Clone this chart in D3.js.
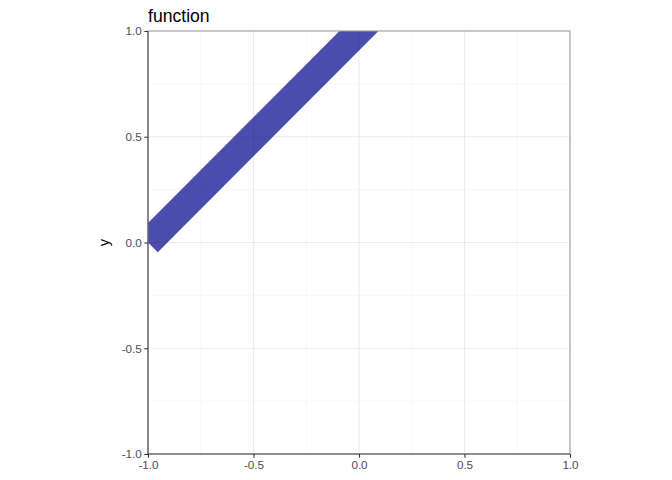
<!DOCTYPE html>
<html><head><meta charset="utf-8">
<script src="https://cdn.jsdelivr.net/npm/d3@7"></script>
<style>body{margin:0;background:#fff}svg{display:block}text{font-family:"Liberation Sans",Arial,Helvetica,sans-serif}</style>
</head><body>
<script>
const xValues = [-1, -0.5, 0, 0.5, 1];
const yValues = [0, 0.5, 1, 1.5, 2];
const xTicks = [-1, -0.5, 0, 0.5, 1];
const yTicks = [-1, -0.5, 0, 0.5, 1];
const minorTicks = [-0.75, -0.25, 0.25, 0.75];
const tickLabels = ["-1.0", "-0.5", "0.0", "0.5", "1.0"];

const W = 672, H = 480;
const L = 148, R = 570, T = 31, B = 454;
const svg = d3.select("body").append("svg").attr("width", W).attr("height", H);
const x = d3.scaleLinear().domain([-1, 1]).range([L, R]);
const y = d3.scaleLinear().domain([-1, 1]).range([B, T]);

// minor grid
svg.append("g").selectAll("line.vx").data(minorTicks).join("line")
  .attr("x1", d => x(d)).attr("x2", d => x(d)).attr("y1", T).attr("y2", B)
  .attr("stroke", "#f3f3f3").attr("stroke-width", 0.6);
svg.append("g").selectAll("line.hy").data(minorTicks).join("line")
  .attr("y1", d => y(d)).attr("y2", d => y(d)).attr("x1", L).attr("x2", R)
  .attr("stroke", "#f3f3f3").attr("stroke-width", 0.6);
// major grid
svg.append("g").selectAll("line").data(xTicks).join("line")
  .attr("x1", d => x(d)).attr("x2", d => x(d)).attr("y1", T).attr("y2", B)
  .attr("stroke", "#ebebeb").attr("stroke-width", 1.1);
svg.append("g").selectAll("line").data(yTicks).join("line")
  .attr("y1", d => y(d)).attr("y2", d => y(d)).attr("x1", L).attr("x2", R)
  .attr("stroke", "#ebebeb").attr("stroke-width", 1.1);

// clip
svg.append("clipPath").attr("id", "clip").append("rect")
  .attr("x", L).attr("y", T).attr("width", R - L).attr("height", B - T);

const pts = xValues.map((v, i) => [v, yValues[i]]);
svg.append("path").datum(pts)
  .attr("clip-path", "url(#clip)")
  .attr("d", d3.line().x(d => x(d[0])).y(d => y(d[1])))
  .attr("fill", "none").attr("stroke", "#00008b").attr("stroke-opacity", 0.7)
  .attr("stroke-width", 27.6).attr("stroke-linecap", "butt");

// panel border
svg.append("rect").attr("x", L).attr("y", T).attr("width", R - L).attr("height", B - T)
  .attr("fill", "none").attr("stroke", "#9a9a9a").attr("stroke-width", 1);

// axes
const xAxis = d3.axisBottom(x).tickValues(xTicks).tickSize(3.7).tickPadding(2.5)
  .tickFormat((d, i) => tickLabels[i]);
const yAxis = d3.axisLeft(y).tickValues(yTicks).tickSize(3.7).tickPadding(2.5)
  .tickFormat((d, i) => tickLabels[i]);
const gx = svg.append("g").attr("transform", `translate(0,${B})`).call(xAxis);
const gy = svg.append("g").attr("transform", `translate(${L},0)`).call(yAxis);
[gx, gy].forEach(g => {
  g.select(".domain").attr("stroke", "#555").attr("stroke-width", 1.1);
  g.selectAll(".tick line").attr("stroke", "#333").attr("stroke-width", 1.1);
  g.selectAll(".tick text").attr("fill", "#4d4d4d").style("font-size", "11.7px")
    .style("font-family", '"Liberation Sans",Arial,sans-serif');
});
gx.select(".domain").attr("d", `M${L},0H${R}`);
gy.select(".domain").attr("d", `M0,${T}V${B}`);

svg.append("text").attr("transform", `translate(109,${(T + B) / 2}) rotate(-90)`)
  .attr("text-anchor", "middle").style("font-size", "14.7px").attr("fill", "#000").text("y");

svg.append("text").attr("x", L).attr("y", 22).style("font-size", "17.6px")
  .attr("fill", "#000").text("function");
</script>
</body></html>
